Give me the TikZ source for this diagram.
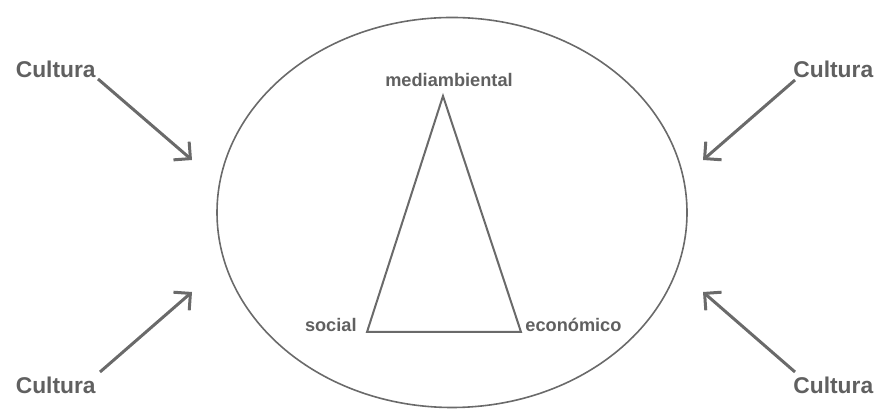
\documentclass[tikz,border=0pt]{standalone}
\usepackage{fontspec}
\setmainfont{Liberation Sans}
\usepackage{tikz}
\usetikzlibrary{arrows.meta}

\definecolor{inkgray}{HTML}{606060}
\definecolor{linegray}{HTML}{6A6A6A}

\tikzset{
    cultura/.style={inner sep=0pt, text=inkgray, font=\fontsize{11.4}{13}\selectfont\bfseries},
    pilar/.style={inner sep=0pt, text=inkgray, font=\fontsize{9.1}{11}\selectfont\bfseries},
    influye/.style={draw=linegray, line width=1.5pt, -{Straight Barb[length=6pt,width=12pt,line width=1.5pt]}}
}

\begin{document}
\begin{tikzpicture}[x=0.5pt, y=0.5pt]

        % Page size
        \useasboundingbox (0,0) rectangle (877,416);

        % Outer ellipse
        \draw[linegray, line width=0.8pt] (452,203.5) ellipse [x radius=235, y radius=195];

        % Triangle corners
        \coordinate (apex) at (443,320);
        \coordinate (izq) at (367,84);
        \coordinate (der) at (521,84);
        \draw[linegray, line width=1pt, line join=miter] (apex) -- (izq) -- (der) -- cycle;

        % Corner labels
        \node[pilar, anchor=south] (medio) at (449,329) {mediambiental};
        \node[pilar, anchor=base east] (social) at (357,84) {social};
        \node[pilar, anchor=base west] (econ) at (525,84) {económico};

        % Cultura labels
        \node[cultura, anchor=south east] (ctl) at (96,338) {Cultura};
        \node[cultura, anchor=north east] (cbl) at (96,39) {Cultura};
        \node[cultura, anchor=south west] (ctr) at (793,338) {Cultura};
        \node[cultura, anchor=north west] (cbr) at (793,39) {Cultura};

        % Arrow tips at the ellipse
        \coordinate (ttl) at (192,256);
        \coordinate (tbl) at (192,124);
        \coordinate (ttr) at (703,256);
        \coordinate (tbr) at (703,124);

        % Arrows
        \draw[influye] (ctl.south east) ++(2,-1) -- (ttl);
        \draw[influye] (cbl.north east) ++(4,5) -- (tbl);
        \draw[influye] (ctr.south west) ++(2,-2) -- (ttr);
        \draw[influye] (cbr.north west) ++(2,5) -- (tbr);

\end{tikzpicture}
\end{document}
